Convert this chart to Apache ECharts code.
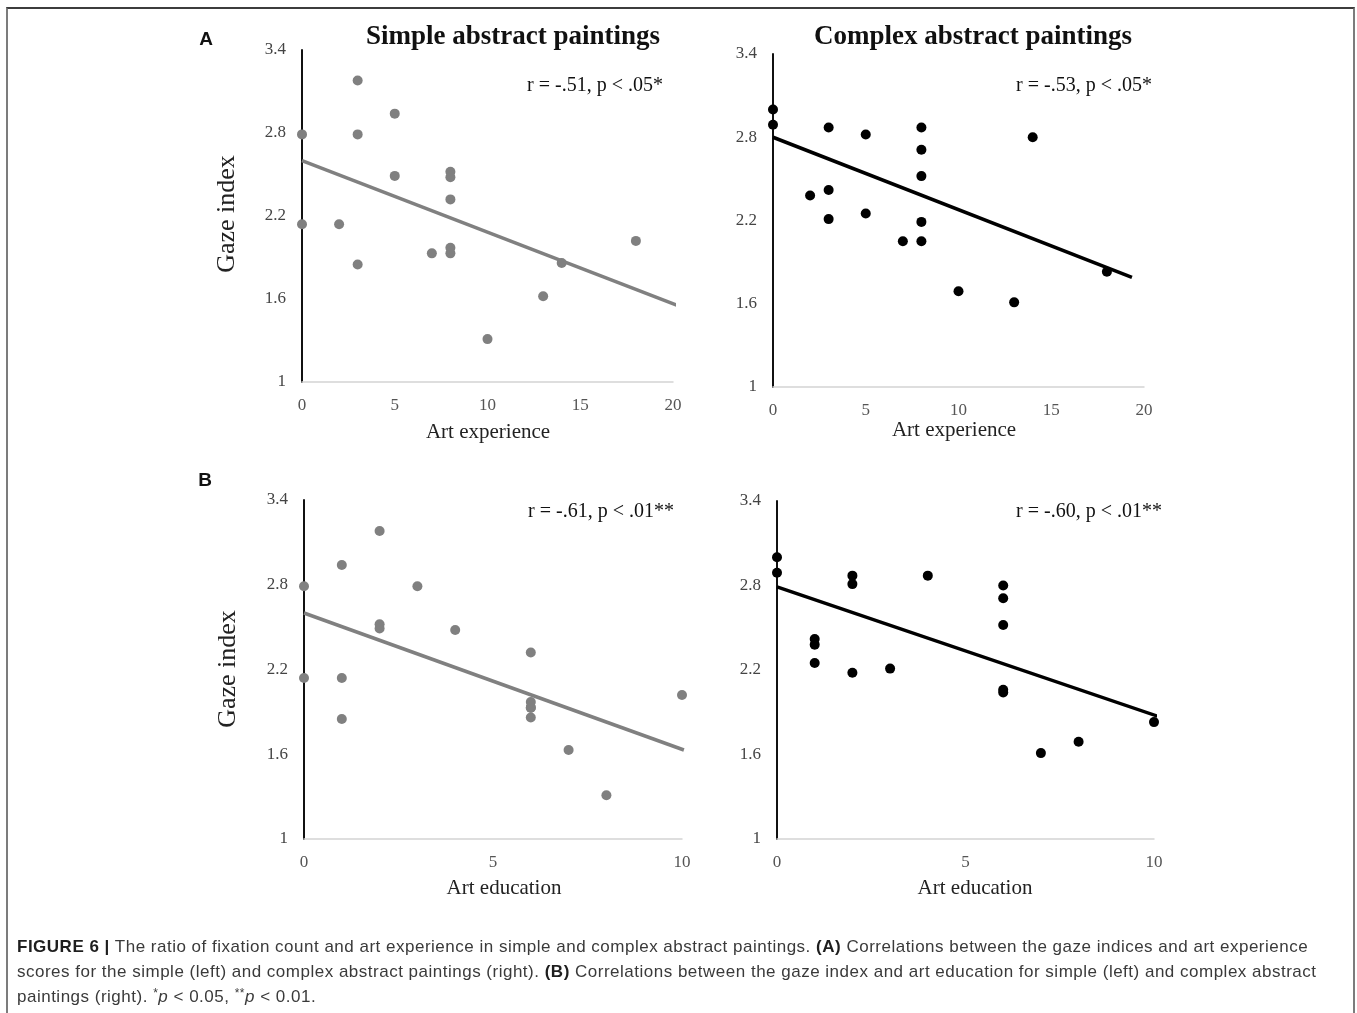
<!DOCTYPE html>
<html>
<head>
<meta charset="utf-8">
<title>Figure 6</title>
<script src="https://cdn.jsdelivr.net/npm/echarts@6/dist/echarts.min.js"></script>
<style>
  html, body { margin: 0; padding: 0; background: #fff; }
  #wrap { position: relative; width: 1357px; height: 1013px; overflow: hidden; }
  #chart { position: absolute; left: 0; top: 0; width: 1357px; height: 1013px; }
  #frame {
    position: absolute; left: 6px; top: 7px; width: 1345px; height: 1030px;
    border-top: 2px solid #3c3c3c; border-left: 2px solid #7c7c7c; border-right: 2px solid #7c7c7c;
    pointer-events: none;
  }
  #caption {
    position: absolute; left: 17px; top: 934px; width: 1330px;
    font-family: "Liberation Sans", Arial, sans-serif; font-size: 17px; line-height: 25px;
    letter-spacing: 0.5px; color: #3a3a3a; white-space: nowrap;
  }
  #caption b { color: #1e1e1e; }
  #caption .ast { font-size: 12px; position: relative; top: -5px; line-height: 0; }
</style>
</head>
<body>
<div id="wrap">
  <div id="chart"></div>
  <div id="frame"></div>
  <div id="caption">
    <b>FIGURE 6 |</b> The ratio of fixation count and art experience in simple and complex abstract paintings. <b>(A)</b> Correlations between the gaze indices and art experience<br>
    scores for the simple (left) and complex abstract paintings (right). <b>(B)</b> Correlations between the gaze index and art education for simple (left) and complex abstract<br>
    paintings (right). <span class="ast">*</span><i>p</i> &lt; 0.05, <span class="ast">**</span><i>p</i> &lt; 0.01.
  </div>
</div>
<script>
// 数据 -- 从图中读取
const expSimpleX = [0, 0, 2, 3, 3, 3, 5, 5, 7, 8, 8, 8, 8, 8, 10, 13, 14, 18]
const expSimpleY = [2.79, 2.14, 2.14, 3.18, 2.79, 1.85, 2.94, 2.49, 1.93, 2.52, 2.48, 2.32, 1.97, 1.93, 1.31, 1.62, 1.86, 2.02]

const expComplexX = [0, 0, 2, 3, 3, 3, 5, 5, 7, 8, 8, 8, 8, 8, 10, 13, 14, 18]
const expComplexY = [3.00, 2.89, 2.38, 2.87, 2.42, 2.21, 2.82, 2.25, 2.05, 2.87, 2.71, 2.52, 2.19, 2.05, 1.69, 1.61, 2.80, 1.83]

const eduSimpleX = [0, 0, 1, 1, 1, 2, 2, 2, 3, 4, 6, 6, 6, 6, 6, 7, 8, 10]
const eduSimpleY = [2.79, 2.14, 2.94, 2.14, 1.85, 3.18, 2.52, 2.49, 2.79, 2.48, 2.32, 1.97, 1.93, 1.93, 1.86, 1.63, 1.31, 2.02]

const eduComplexX = [0, 0, 1, 1, 1, 2, 2, 2, 3, 4, 6, 6, 6, 6, 6, 7, 8, 10]
const eduComplexY = [3.00, 2.89, 2.42, 2.38, 2.25, 2.87, 2.81, 2.18, 2.21, 2.87, 2.80, 2.71, 2.52, 2.06, 2.04, 1.61, 1.69, 1.83]

// 趋势线端点
const trendExpSimple = [[0, 2.60], [20.3, 1.55]]
const trendExpComplex = [[0, 2.80], [19.35, 1.79]]
const trendEduSimple = [[0, 2.60], [10.05, 1.63]]
const trendEduComplex = [[0, 2.79], [10.38, 1.846]]

const yTicks = [1, 1.6, 2.2, 2.8, 3.4]
const panelTitles = ['Simple abstract paintings', 'Complex abstract paintings']
const stats = ['r = -.51, p < .05*', 'r = -.53, p < .05*', 'r = -.61, p < .01**', 'r = -.60, p < .01**']

const serif = '"Liberation Serif", "Times New Roman", serif'
const sans = '"Liberation Sans", Arial, sans-serif'
const gray = '#808080'

const zip = (xs, ys) => xs.map((x, i) => [x, ys[i]])

const grids = [
  { left: 302, top: 50, width: 371, height: 332 },
  { left: 773, top: 54, width: 371, height: 333 },
  { left: 304, top: 500, width: 378, height: 339 },
  { left: 777, top: 501, width: 377, height: 338 }
]

const makeX = (gridIndex, max) => ({
  type: 'value',
  gridIndex: gridIndex,
  min: 0,
  max: max,
  interval: 5,
  axisLine: { show: true, onZero: false, lineStyle: { color: '#d4d4d4', width: 1.5 } },
  axisTick: { show: false },
  splitLine: { show: false },
  axisLabel: { color: '#555', fontFamily: serif, fontSize: 17, margin: 15 }
})

const makeY = (gridIndex) => ({
  type: 'value',
  gridIndex: gridIndex,
  min: yTicks[0],
  max: yTicks[yTicks.length - 1],
  interval: 0.6,
  axisLine: { show: true, onZero: false, lineStyle: { color: '#111', width: 2 } },
  axisTick: { show: false },
  splitLine: { show: false },
  axisLabel: {
    color: '#444',
    fontFamily: serif,
    fontSize: 17,
    margin: 16,
    formatter: v => String(Math.round(v * 10) / 10)
  }
})

const scatter = (idx, data, color) => ({
  type: 'scatter',
  xAxisIndex: idx,
  yAxisIndex: idx,
  symbolSize: 10,
  itemStyle: { color: color, opacity: 1 },
  data: data,
  z: 3
})

const trend = (idx, data, color) => ({
  type: 'line',
  xAxisIndex: idx,
  yAxisIndex: idx,
  showSymbol: false,
  clip: false,
  lineStyle: { color: color, width: 3.5 },
  data: data,
  z: 2
})

const text = (str, x, y, font, extra) => ({
  type: 'text',
  x: x,
  y: y,
  style: Object.assign({ text: str, font: font, fill: '#111', textAlign: 'center', textVerticalAlign: 'middle' }, extra || {})
})

const graphics = [
  text('A', 206, 40, 'bold 19px ' + sans),
  text('B', 205, 481, 'bold 19px ' + sans),
  text(panelTitles[0], 513, 37, 'bold 27px ' + serif),
  text(panelTitles[1], 973, 37, 'bold 27px ' + serif),
  text(stats[0], 595, 86, '20px ' + serif),
  text(stats[1], 1084, 86, '20px ' + serif),
  text(stats[2], 601, 512, '20px ' + serif),
  text(stats[3], 1089, 512, '20px ' + serif),
  text('Art experience', 488, 432, '21px ' + serif, { fill: '#222' }),
  text('Art experience', 954, 430, '21px ' + serif, { fill: '#222' }),
  text('Art education', 504, 888, '21px ' + serif, { fill: '#222' }),
  text('Art education', 975, 888, '21px ' + serif, { fill: '#222' }),
  Object.assign(text('Gaze index', 227, 214, '26px ' + serif, { fill: '#222' }), { rotation: Math.PI / 2 }),
  Object.assign(text('Gaze index', 228, 669, '26px ' + serif, { fill: '#222' }), { rotation: Math.PI / 2 })
]

const option = {
  animation: false,
  backgroundColor: 'transparent',
  grid: grids,
  xAxis: [makeX(0, 20), makeX(1, 20), makeX(2, 10), makeX(3, 10)],
  yAxis: [makeY(0), makeY(1), makeY(2), makeY(3)],
  graphic: graphics,
  series: [
    trend(0, trendExpSimple, gray),
    scatter(0, zip(expSimpleX, expSimpleY), gray),
    trend(1, trendExpComplex, '#000'),
    scatter(1, zip(expComplexX, expComplexY), '#000'),
    trend(2, trendEduSimple, gray),
    scatter(2, zip(eduSimpleX, eduSimpleY), gray),
    trend(3, trendEduComplex, '#000'),
    scatter(3, zip(eduComplexX, eduComplexY), '#000')
  ]
}

const chart = echarts.init(document.getElementById('chart'))
chart.setOption(option)
window.addEventListener('resize', () => chart.resize())
</script>
</body>
</html>
